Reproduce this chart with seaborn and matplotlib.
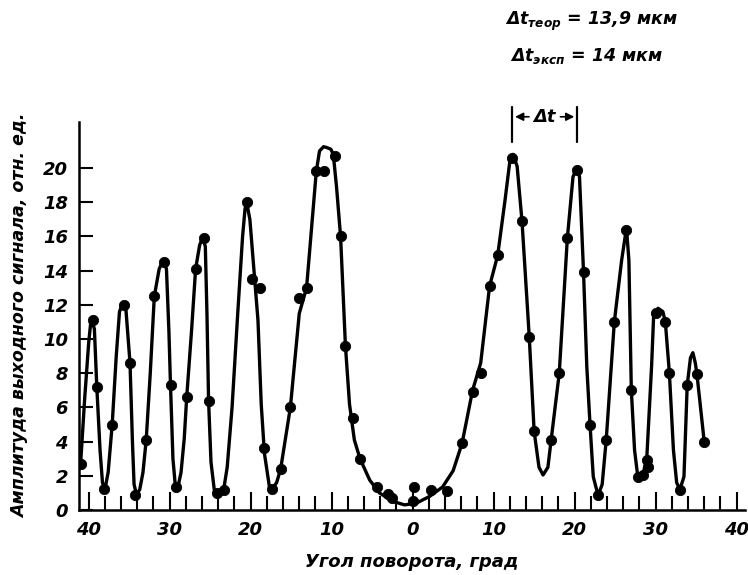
import matplotlib
matplotlib.use("Agg")
import matplotlib.pyplot as plt
import numpy as np
import seaborn as sns

# measured points (angle: left side negative, right side positive)
dot_x = [-41.0, -39.5, -39.0, -38.1, -37.1, -35.7, -34.9, -34.3, -32.9, -31.9,
         -30.7, -29.9, -29.2, -27.9, -26.8, -25.8, -25.2, -24.2, -23.3, -20.5,
         -19.8, -18.9, -18.4, -17.4, -16.3, -15.1, -14.0, -13.1, -11.9, -10.9,
         -9.6, -8.9, -8.3, -7.4, -6.5, -4.4, -3.1, -2.6, 0.2, 0.1, 2.3, 4.2,
         6.1, 7.4, 8.5, 9.5, 10.5, 12.3, 13.5, 14.4, 15.0, 17.1, 18.1, 19.1,
         20.3, 21.1, 21.9, 22.9, 23.9, 24.9, 26.4, 27.0, 27.8, 28.4, 28.9, 29.0,
         30.0, 31.2, 31.7, 33.0, 33.9, 35.1, 36.0]
dot_y = [2.7, 11.1, 7.2, 1.25, 5.0, 12.0, 8.6, 0.9, 4.1, 12.5,
         14.5, 7.3, 1.35, 6.6, 14.1, 15.9, 6.4, 1.0, 1.2, 18.0,
         13.5, 13.0, 3.6, 1.25, 2.4, 6.0, 12.4, 13.0, 19.8, 19.8,
         20.7, 16.0, 9.6, 5.4, 3.0, 1.35, 0.95, 0.7, 1.35, 0.55, 1.15, 1.1,
         3.9, 6.9, 8.0, 13.1, 14.9, 20.6, 16.9, 10.1, 4.6, 4.1, 8.0, 15.9,
         19.9, 13.9, 5.0, 0.9, 4.1, 11.0, 16.4, 7.0, 1.95, 2.05, 2.95, 2.5,
         11.5, 11.0, 8.0, 1.2, 7.3, 7.95, 4.0]

# hand-drawn curve, read point by point
curve_x = [-41.0, -40.5, -40.0, -39.7, -39.3, -39.0, -38.6, -38.3, -38.0, -37.6,
           -37.1, -36.6, -36.2, -35.8, -35.4, -34.9, -34.6, -34.4, -34.1, -33.7,
           -33.3, -32.9, -32.4, -31.9, -31.3, -30.8, -30.4, -30.1, -29.9, -29.6,
           -29.3, -29.0, -28.6, -28.2, -27.9, -27.3, -26.8, -26.3, -25.9, -25.6,
           -25.4, -25.2, -24.9, -24.5, -24.1, -23.7, -23.3, -22.9, -22.3, -21.6,
           -21.0, -20.7, -20.5, -20.1, -19.5, -19.1, -18.7, -18.3, -17.7, -17.4,
           -16.8, -16.3, -15.6, -15.1, -14.0, -13.1, -12.5, -11.9, -11.5, -11.0,
           -10.6, -10.1, -9.8, -9.4, -8.9, -8.3, -7.8, -7.2, -6.5, -5.3,
           -4.1, -2.4, -1.0, 0.45, 2.1, 3.7, 5.0, 6.1, 7.4, 8.4,
           9.5, 10.5, 11.4, 12.0, 12.4, 12.9, 13.5, 14.4, 15.0, 15.6,
           16.1, 16.7, 17.1, 18.1, 19.1, 19.8, 20.3, 20.6, 21.1, 21.5,
           21.9, 22.3, 22.9, 23.4, 23.9, 24.9, 25.8, 26.4, 26.7, 27.0,
           27.4, 27.8, 28.4, 28.9, 29.5, 29.75, 30.3, 30.9, 31.2, 31.7,
           32.2, 32.6, 33.0, 33.5, 33.9, 34.3, 34.6, 34.9, 35.1, 36.0]
curve_y = [2.7, 6.5, 9.8, 11.2, 10.6, 7.2, 3.5, 1.6, 1.2, 2.2,
           5.0, 9.0, 11.6, 12.1, 11.7, 8.6, 4.0, 1.5, 0.9, 1.2,
           2.2, 4.1, 8.0, 12.5, 14.1, 14.6, 14.1, 10.5, 7.3, 3.0,
           1.4, 1.3, 2.2, 4.2, 6.6, 10.5, 14.1, 15.5, 15.95, 15.4,
           11.5, 6.4, 2.8, 1.2, 0.95, 1.0, 1.3, 2.5, 6.0, 11.5,
           16.0, 17.6, 18.0, 17.0, 13.5, 11.1, 6.2, 3.3, 1.4, 1.2,
           1.6, 2.4, 4.5, 6.0, 11.5, 13.0, 16.4, 19.8, 21.0, 21.25,
           21.2, 21.1, 20.8, 18.9, 16.0, 9.6, 6.2, 4.1, 3.0, 1.75,
           1.0, 0.5, 0.3, 0.4, 0.8, 1.35, 2.3, 3.9, 7.0, 8.6,
           13.1, 14.9, 18.1, 20.4, 20.8, 20.1, 16.9, 10.1, 4.6, 2.5,
           2.05, 2.5, 4.1, 8.0, 15.9, 19.5, 20.0, 19.5, 13.9, 8.4,
           5.0, 1.95, 0.85, 1.5, 4.1, 11.0, 14.6, 16.5, 14.6, 7.0,
           3.5, 1.95, 2.05, 2.95, 8.4, 11.3, 11.8, 11.6, 11.0, 8.0,
           3.5, 1.6, 1.2, 1.95, 7.3, 8.9, 9.2, 8.6, 7.95, 4.0]

x_ticks = [-40, -30, -20, -10, 0, 10, 20, 30, 40]
x_labels = ["40", "30", "20", "10", "0", "10", "20", "30", "40"]
y_ticks = [0, 2, 4, 6, 8, 10, 12, 14, 16, 18, 20]
delta_x = [12.3, 20.3]

sns.set_theme(style="white")
plt.rcParams['font.family'] = ['DejaVu Sans']
plt.rcParams['font.style'] = 'italic'
plt.rcParams['font.weight'] = 'bold'
plt.rcParams['text.color'] = 'black'
plt.rcParams['axes.labelcolor'] = 'black'
plt.rcParams['xtick.color'] = 'black'
plt.rcParams['ytick.color'] = 'black'
plt.rcParams['mathtext.fontset'] = 'custom'
plt.rcParams['mathtext.it'] = 'DejaVu Sans:italic:bold'
plt.rcParams['mathtext.rm'] = 'DejaVu Sans:italic:bold'

fig = plt.figure(figsize=(7.48, 5.75), dpi=100)
ax = fig.add_axes([0.1056, 0.113, 0.89, 0.675])

sns.lineplot(x=curve_x, y=curve_y, sort=False, estimator=None, color="black",
             linewidth=2.4, ax=ax)
sns.scatterplot(x=dot_x, y=dot_y, color="black", edgecolor="black", s=55,
                zorder=3, ax=ax)

ax.set_xlim(-41.2, 41.0)
ax.set_ylim(0, 22.7)
sns.despine(ax=ax)
for s in ["left", "bottom"]:
    ax.spines[s].set_linewidth(1.8)
    ax.spines[s].set_color("black")

ax.set_xticks(x_ticks)
ax.set_xticklabels(x_labels)
ax.set_xticks(np.arange(-40, 41, 2), minor=True)
ax.set_yticks(y_ticks)
ax.tick_params(axis="x", which="both", direction="in", length=10, width=1.5,
               labelsize=13, pad=8, bottom=True)
ax.tick_params(axis="x", which="major", length=13)
ax.tick_params(axis="y", direction="in", length=10, width=1.5,
               labelsize=13, pad=8, left=True)
for lab in ax.get_xticklabels() + ax.get_yticklabels():
    lab.set_fontweight("bold")
    lab.set_fontstyle("italic")
ax.grid(False)

ax.set_xlabel("Угол поворота, град", fontsize=13, fontweight="bold",
              labelpad=10)
ax.set_ylabel("Амплитуда выходного сигнала, отн. ед.", fontsize=12.5,
              fontweight="bold", labelpad=10)

# delta t marker
for dx in delta_x:
    ax.plot([dx, dx], [21.5, 23.6], color="black", lw=1.6, clip_on=False)
mid = (delta_x[0] + delta_x[1]) / 2
ax.text(mid, 23.0, "Δt", ha="center", va="center", fontsize=13,
        fontweight="bold")
ax.annotate("", xy=(delta_x[0], 23.0), xytext=(mid - 1.6, 23.0),
            arrowprops=dict(arrowstyle="-|>", color="black", lw=1.2),
            annotation_clip=False)
ax.annotate("", xy=(delta_x[1], 23.0), xytext=(mid + 1.6, 23.0),
            arrowprops=dict(arrowstyle="-|>", color="black", lw=1.2),
            annotation_clip=False)

fig.text(0.675, 0.962, r"$\Delta t_{теор}$ = 13,9 мкм", fontsize=12.5,
         ha="left", va="center")
fig.text(0.682, 0.902, r"$\Delta t_{эксп}$ = 14 мкм", fontsize=12.5,
         ha="left", va="center")

fig.savefig("out.png", dpi=100)
